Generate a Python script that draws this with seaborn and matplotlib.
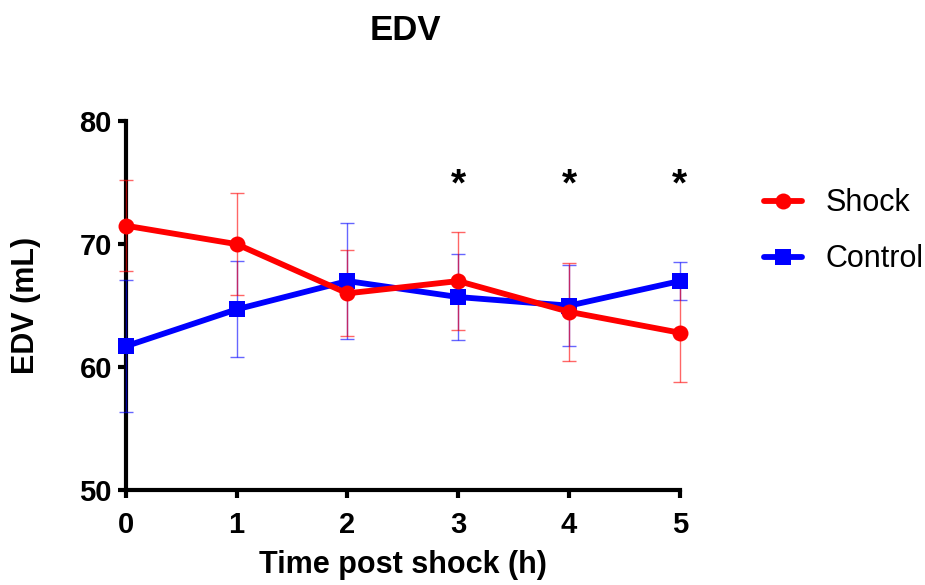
import matplotlib
matplotlib.use("Agg")
import matplotlib.pyplot as plt
from matplotlib.lines import Line2D
import seaborn as sns
import pandas as pd
import numpy as np

# ---- data ----
time_h = [0, 1, 2, 3, 4, 5]
shock_mean = [71.5, 70.0, 66.0, 67.0, 64.5, 62.8]
shock_err = [3.7, 4.15, 3.5, 4.0, 4.0, 4.0]
control_mean = [61.7, 64.7, 67.0, 65.7, 65.0, 67.0]
control_err = [5.35, 3.9, 4.75, 3.5, 3.3, 1.55]
star_times = [3, 4, 5]
star_y = 74.8
y_ticks = [50, 60, 70, 80]

sns.set_theme(style="white", rc={"xtick.bottom": True, "ytick.left": True,
                                 "text.color": "black", "axes.labelcolor": "black",
                                 "xtick.color": "black", "ytick.color": "black"})
plt.rcParams['font.family'] = ['Liberation Sans', 'DejaVu Sans']

RED = "#ff0000"
BLUE = "#0000ff"

fig = plt.figure(figsize=(9.25, 5.85), dpi=100)
ax = fig.add_axes([0.136, 0.162, 0.599, 0.631])

df_s = pd.DataFrame({"t": time_h, "v": shock_mean})
df_c = pd.DataFrame({"t": time_h, "v": control_mean})

# error bars
ax.errorbar(time_h, control_mean, yerr=control_err, fmt="none", ecolor=BLUE,
            alpha=0.6, elinewidth=1.0, capsize=5, capthick=1.0, zorder=2, clip_on=False)
ax.errorbar(time_h, shock_mean, yerr=shock_err, fmt="none", ecolor=RED,
            alpha=0.6, elinewidth=1.0, capsize=5, capthick=1.0, zorder=2, clip_on=False)

sns.lineplot(data=df_c, x="t", y="v", ax=ax, color=BLUE, linewidth=4.2,
             marker="s", markersize=11, markeredgewidth=0, zorder=3, clip_on=False)
sns.lineplot(data=df_s, x="t", y="v", ax=ax, color=RED, linewidth=4.2,
             marker="o", markersize=11.5, markeredgewidth=0, zorder=4, clip_on=False)

for t in star_times:
    ax.text(t, star_y, "*", ha="center", va="center", fontsize=28,
            fontweight="bold", color="black")

ax.set_xlim(0, 5)
ax.set_ylim(50, 80)
ax.set_xticks(time_h)
ax.set_yticks(y_ticks)
ax.tick_params(axis="both", which="major", direction="out", length=6, width=3,
               color="black", labelsize=21)
ax.tick_params(axis="x", pad=9)
ax.tick_params(axis="y", pad=4)
for lab in ax.get_xticklabels() + ax.get_yticklabels():
    lab.set_fontweight("bold")
for side in ["top", "right"]:
    ax.spines[side].set_visible(False)
for side in ["left", "bottom"]:
    ax.spines[side].set_linewidth(3)
    ax.spines[side].set_color("black")
    ax.spines[side].set_zorder(1)

ax.set_xlabel("Time post shock (h)", fontsize=22, fontweight="bold", labelpad=8)
ax.set_ylabel("EDV (mL)", fontsize=22, fontweight="bold")
ax.yaxis.set_label_coords(-0.153, 0.5)

fig.text(0.438, 0.932, "EDV", ha="center", va="baseline", fontsize=25,
         fontweight="bold")

handles = [
    Line2D([0], [0], color=RED, lw=4.2, marker="o", markersize=11.5, markeredgewidth=0),
    Line2D([0], [0], color=BLUE, lw=4.2, marker="s", markersize=11, markeredgewidth=0),
]
fig.legend(handles, ["Shock", "Control"], loc="upper left",
           bbox_to_anchor=(0.826, 0.678), frameon=False, fontsize=22,
           handlelength=1.25, handletextpad=0.75, labelspacing=0.85,
           borderaxespad=0, borderpad=0)

fig.savefig("out.png", dpi=100)
